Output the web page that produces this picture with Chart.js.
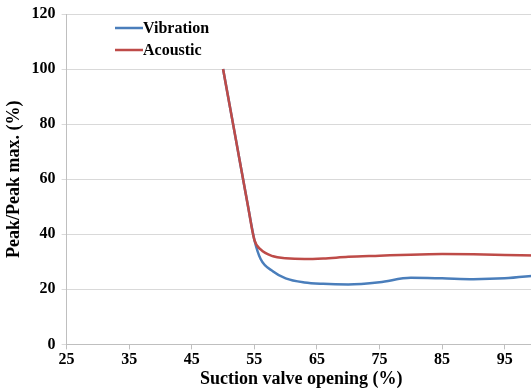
<!DOCTYPE html>
<html>
<head>
<meta charset="utf-8">
<script src="https://cdn.jsdelivr.net/npm/chart.js@4.4.0/dist/chart.umd.min.js"></script>
<style>
  html, body { margin: 0; padding: 0; background: #fff; overflow: hidden; }
  #wrap { width: 545px; height: 389px; position: relative; }
</style>
</head>
<body>
<div id="wrap"><canvas id="chart"></canvas></div>
<script>
// values
const openingX = [50, 52, 54, 55, 56, 58, 60, 63, 66, 70, 75, 80, 85, 90, 95, 100];
const vibration = [100, 75, 50, 38, 31, 26.5, 24, 22.5, 22, 21.8, 22.6, 24.2, 24, 23.7, 24, 25];
const acoustic  = [100, 75, 50, 38, 34.5, 32, 31.3, 31, 31.2, 31.8, 32.2, 32.6, 32.8, 32.7, 32.5, 32.3];
const xTicks = [25, 35, 45, 55, 65, 75, 85, 95];
const yTicks = [0, 20, 40, 60, 80, 100, 120];

const serif = '"Liberation Serif", "Times New Roman", serif';
const tickFont = { family: serif, weight: 'bold', size: 16, lineHeight: 1.0 };
const titleFont = { family: serif, weight: 'bold', size: 18 };

function pts(ys) { return openingX.map((x, i) => ({ x: x, y: ys[i] })); }

// legend sits inside the plot, top left
const legendInside = {
  id: 'legendInside',
  afterDraw(chart) {
    const ctx = chart.ctx;
    ctx.save();
    ctx.font = 'bold 16px ' + serif;
    ctx.textBaseline = 'middle';
    chart.data.datasets.forEach((d, i) => {
      const y = 28 + i * 22;
      ctx.strokeStyle = d.borderColor;
      ctx.lineWidth = 2.5;
      ctx.beginPath();
      ctx.moveTo(115, y);
      ctx.lineTo(143, y);
      ctx.stroke();
      ctx.fillStyle = '#000';
      ctx.fillText(d.label, 143, y + 1);
    });
    ctx.restore();
  }
};

new Chart(document.getElementById('chart'), {
  type: 'line',
  data: {
    datasets: [
      { label: 'Vibration', data: pts(vibration), order: 1, borderColor: '#4a7ebb', borderWidth: 2.5, pointRadius: 0, cubicInterpolationMode: 'monotone', fill: false },
      { label: 'Acoustic', data: pts(acoustic), order: 0, borderColor: '#be4b48', borderWidth: 2.5, pointRadius: 0, cubicInterpolationMode: 'monotone', fill: false }
    ]
  },
  options: {
    responsive: true,
    maintainAspectRatio: false,
    animation: false,
    layout: { padding: { top: 13, right: 9, left: 4, bottom: 0 } },
    plugins: { legend: { display: false }, tooltip: { enabled: false } },
    scales: {
      x: {
        type: 'linear', min: 25, max: 100,
        afterBuildTicks: s => { s.ticks = xTicks.map(v => ({ value: v })); },
        grid: { display: true, drawOnChartArea: false, drawTicks: true, tickLength: 5, color: '#bfbfbf' },
        border: { color: '#bfbfbf', width: 1 },
        ticks: { color: '#000', font: tickFont, padding: 2, maxRotation: 0 },
        title: { display: true, text: 'Suction valve opening (%)', color: '#000', font: titleFont, padding: { top: -1, bottom: -1 } }
      },
      y: {
        min: 0, max: 120,
        afterBuildTicks: s => { s.ticks = yTicks.map(v => ({ value: v })); },
        grid: { color: '#d9d9d9', tickLength: 5 },
        border: { color: '#bfbfbf', width: 1 },
        ticks: { color: '#000', font: tickFont, padding: 6 },
        title: { display: true, text: 'Peak/Peak max. (%)', color: '#000', font: titleFont, padding: { top: 0, bottom: 0 } }
      }
    }
  },
  plugins: [legendInside]
});
</script>
</body>
</html>
